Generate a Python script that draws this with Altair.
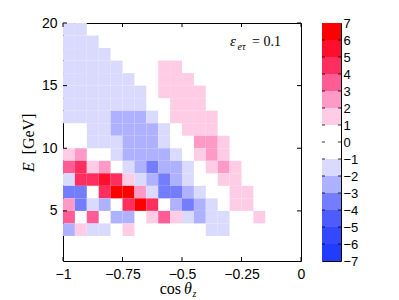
import altair as alt
import pandas as pd

# ---- data -------------------------------------------------------------
cos_edges = [-1.0, -0.95, -0.9, -0.85, -0.8, -0.75, -0.7, -0.65, -0.6, -0.55,
             -0.5, -0.45, -0.4, -0.35, -0.3, -0.25, -0.2, -0.15, -0.1, -0.05, 0.0]

L, M, B = -1.5, -2.5, -3.5
P1, P2, P3, P4, P5, P6 = 1.5, 2.5, 3.5, 4.5, 5.5, 6.5

E19 = [L, L, 0, 0, 0, 0, 0, 0, 0, 0, 0, 0, 0, 0, 0, 0, 0, 0, 0, 0]
E18 = [L, L, L, 0, 0, 0, 0, 0, 0, 0, 0, 0, 0, 0, 0, 0, 0, 0, 0, 0]
E17 = [L, L, L, L, 0, 0, 0, 0, 0, 0, 0, 0, 0, 0, 0, 0, 0, 0, 0, 0]
E16 = [L, L, L, L, L, 0, 0, 0, P1, P1, 0, 0, 0, 0, 0, 0, 0, 0, 0, 0]
E15 = [L, L, L, L, L, L, 0, 0, P1, P1, P1, 0, 0, 0, 0, 0, 0, 0, 0, 0]
E14 = [L, L, L, L, L, L, L, 0, P1, P1, P1, P1, 0, 0, 0, 0, 0, 0, 0, 0]
E13 = [L, L, L, L, L, L, L, 0, 0, P1, P1, P1, 0, 0, 0, 0, 0, 0, 0, 0]
E12 = [L, L, L, L, M, M, M, L, 0, P1, P1, P1, P1, 0, 0, 0, 0, 0, 0, 0]
E11 = [0, 0, L, L, M, M, M, M, L, 0, P1, P1, P1, 0, 0, 0, 0, 0, 0, 0]
E10 = [0, 0, L, L, L, M, M, M, L, 0, 0, P2, P2, P1, 0, 0, 0, 0, 0, 0]
E9 = [P1, P2, 0, 0, L, M, M, M, M, L, 0, P1, P2, P1, 0, 0, 0, 0, 0, 0]
E8 = [P3, P4, P1, P2, 0, L, M, B, M, M, L, 0, P1, P2, P1, 0, 0, 0, 0, 0]
E7 = [L, P4, P4, P5, P4, P1, L, M, B, M, L, 0, 0, P1, P1, 0, 0, 0, 0, 0]
E6 = [B, B, 0, P4, P6, P6, P2, L, B, B, M, L, 0, 0, P1, P1, 0, 0, 0, 0]
E5 = [P2, B, L, M, 0, P4, P6, P4, 0, M, B, M, L, 0, P1, P1, 0, 0, 0, 0]
E4 = [P3, 0, P3, 0, M, M, 0, P1, P3, P1, L, M, L, L, 0, 0, P1, 0, 0, 0]
E3 = [M, P1, L, L, 0, P1, 0, 0, 0, 0, 0, 0, L, L, 0, 0, 0, 0, 0, 0]

rows = {19: E19, 18: E18, 17: E17, 16: E16, 15: E15, 14: E14, 13: E13,
        12: E12, 11: E11, 10: E10, 9: E9, 8: E8, 7: E7, 6: E6, 5: E5,
        4: E4, 3: E3}

x_ticks = [-1, -0.75, -0.5, -0.25, 0]
y_ticks = [5, 10, 15, 20]
cb_ticks = list(range(-7, 8))

thresholds = [-6, -5, -4, -3, -2, -1, 1, 2, 3, 4, 5, 6]
colors = ["#1f3cff", "#3348ff", "#4c5cff", "#757dff", "#aeb1ff", "#dadaff",
          "#ffffff",
          "#ffcce6", "#ff99c6", "#ff5c96", "#ff2e5e", "#ff0f2e", "#ff0000"]

cb_lo = list(range(-7, 7))
cb_hi = list(range(-6, 8))
cb_val = [v + 0.5 for v in cb_lo]

# ---- tables -------------------------------------------------------------
recs = []
for e, vals in rows.items():
    for i, v in enumerate(vals):
        if v != 0:
            recs.append({"x0": cos_edges[i], "x1": cos_edges[i + 1],
                         "y0": e, "y1": e + 1, "v": v})
cells_df = pd.DataFrame(recs)
xt_df = pd.DataFrame({"x": x_ticks})
yt_df = pd.DataFrame({"y": y_ticks})
cb_df = pd.DataFrame({"lo": cb_lo, "hi": cb_hi, "v": cb_val})
cbt_df = pd.DataFrame({"y": cb_ticks[1:-1]})
one = pd.DataFrame({"a": [0]})

W = H = 238
CBW = 19
TL = 4

xs = alt.Scale(domain=[-1, 0], nice=False, zero=False)
ys = alt.Scale(domain=[1, 20], nice=False, zero=False)
cbs = alt.Scale(domain=[-7, 7], nice=False, zero=False)
cs = alt.Scale(type="threshold", domain=thresholds, range=colors)

sans = "Liberation Sans"
serif = "Liberation Serif"

x_axis = alt.Axis(values=x_ticks, format=".2~f", title=None, labelPadding=6,
                  labelFlush=False)
y_axis = alt.Axis(values=y_ticks, format="d", title=None, labelPadding=6)
cb_axis = alt.Axis(orient="right", values=cb_ticks, format="d", title=None,
                   labelPadding=2, labelFontSize=13)

cells = alt.Chart(cells_df).mark_rect(strokeWidth=0).encode(
    x=alt.X("x0:Q", scale=xs, axis=x_axis),
    x2="x1:Q",
    y=alt.Y("y0:Q", scale=ys, axis=y_axis),
    y2="y1:Q",
    color=alt.Color("v:Q", scale=cs, legend=None),
)

xt_bot = alt.Chart(xt_df).mark_rule(color="black", strokeWidth=1).encode(
    x=alt.X("x:Q", scale=xs, axis=x_axis), y=alt.value(H), y2=alt.value(H - TL))
xt_top = alt.Chart(xt_df).mark_rule(color="black", strokeWidth=1).encode(
    x=alt.X("x:Q", scale=xs, axis=x_axis), y=alt.value(0), y2=alt.value(TL))
yt_l = alt.Chart(yt_df).mark_rule(color="black", strokeWidth=1).encode(
    y=alt.Y("y:Q", scale=ys, axis=y_axis), x=alt.value(0), x2=alt.value(TL))
yt_r = alt.Chart(yt_df).mark_rule(color="black", strokeWidth=1).encode(
    y=alt.Y("y:Q", scale=ys, axis=y_axis), x=alt.value(W), x2=alt.value(W - TL))


def txt(s, x, y, size, style="normal", align="left", angle=0, font=serif):
    return alt.Chart(one).mark_text(
        text=s, font=font, fontSize=size, fontStyle=style, align=align,
        baseline="alphabetic", angle=angle, color="black"
    ).encode(x=alt.value(x), y=alt.value(y))


ann = [
    txt("ε", 167, 23, 15, "italic"),
    txt("eτ", 174.5, 26.5, 10, "italic"),
    txt("= 0.1", 189, 23, 14),
    txt("cos", 118, H + 33, 16, align="right"),
    txt("θ", 121, H + 33, 16, "italic"),
    txt("z", 129.5, H + 35.5, 10, "italic"),
    txt("E", -29, 144, 16, "italic", align="center", angle=270),
    txt("[GeV]", -29, 111, 16, align="center", angle=270),
]

heat = alt.layer(cells, xt_bot, xt_top, yt_l, yt_r, *ann).properties(width=W, height=H)

cbar = alt.Chart(cb_df).mark_rect(strokeWidth=0).encode(
    x=alt.value(0), x2=alt.value(CBW),
    y=alt.Y("lo:Q", scale=cbs, axis=cb_axis),
    y2="hi:Q",
    color=alt.Color("v:Q", scale=cs, legend=None),
)
cbt_l = alt.Chart(cbt_df).mark_rule(color="black", strokeWidth=0.8).encode(
    y=alt.Y("y:Q", scale=cbs, axis=cb_axis), x=alt.value(0), x2=alt.value(3))
cbt_r = alt.Chart(cbt_df).mark_rule(color="black", strokeWidth=0.8).encode(
    y=alt.Y("y:Q", scale=cbs, axis=cb_axis), x=alt.value(CBW - 3), x2=alt.value(CBW))
colorbar = alt.layer(cbar, cbt_l, cbt_r).properties(width=CBW, height=H)

chart = alt.hconcat(heat, colorbar, spacing=15,
                    padding={"left": 12, "top": 7, "right": 2, "bottom": 2}
).resolve_scale(color="shared").configure_view(
    stroke="black", strokeWidth=1
).configure_axis(
    domain=False, ticks=False, grid=False, labelFont=sans, labelFontSize=14,
    labelColor="black"
).properties(background="white")

chart.save("out.html", embed_options={"renderer": "svg", "actions": False})
